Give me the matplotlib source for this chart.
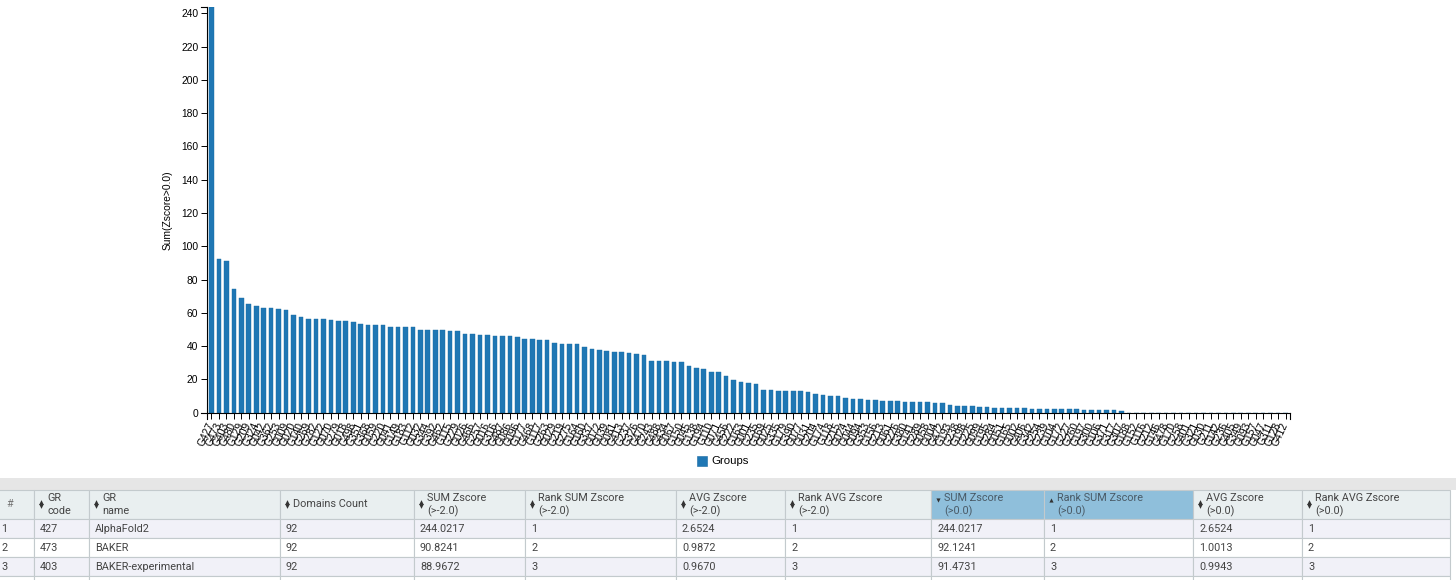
#!/usr/bin/env python3
"""
Bar chart of Sum(Zscore>0.0) per group, with the results table strip below.
"""
import numpy as np
import matplotlib
matplotlib.use('Agg')
import matplotlib.pyplot as plt
from matplotlib.patches import Rectangle

# Data
GROUPS = [
    'G427', 'G473', 'G403', 'G480', 'G129', 'G209', 'G324', 'G042', 'G362', 'G253',
    'G009', 'G020', 'G140', 'G269', 'G282', 'G122', 'G070', 'G279', 'G018', 'G498',
    'G351', 'G368', 'G059', 'G220', 'G041', 'G149', 'G183', 'G112', 'G032', 'G344',
    'G392', 'G462', 'G115', 'G229', 'G026', 'G466', 'G257', 'G016', 'G316', 'G487',
    'G086', 'G096', 'G177', 'G468', 'G117', 'G263', 'G029', 'G219', 'G275', 'G164',
    'G160', 'G337', 'G072', 'G039', 'G081', 'G413', 'G237', 'G326', 'G470', 'G243',
    'G488', 'G434', 'G067', 'G150', 'G045', 'G138', 'G194', 'G110', 'G071', 'G456',
    'G222', 'G163', 'G001', 'G235', 'G169', 'G025', 'G335', 'G179', 'G390', 'G077',
    'G031', 'G204', 'G174', 'G118', 'G215', 'G024', 'G044', 'G094', 'G353', 'G156',
    'G213', 'G061', 'G226', 'G380', 'G141', 'G289', 'G058', 'G004', 'G472', 'G193',
    'G238', 'G198', 'G225', 'G099', 'G195', 'G284', 'G051', 'G165', 'G002', 'G406',
    'G342', 'G254', 'G239', 'G104', 'G172', 'G227', 'G260', 'G197', 'G300', 'G106',
    'G371', 'G317', 'G307', 'G188', 'G152', 'G116', 'G212', 'G146', 'G478', 'G170',
    'G258', 'G401', 'G321', 'G030', 'G211', 'G142', 'G236', 'G405', 'G349', 'G093',
    'G157', 'G047', 'G311', 'G128', 'G412',
]
SUM_Z = [
    244.0217, 92.1241, 91.4731, 74.6, 69.0, 65.5, 64.0, 63.0, 63.0, 62.5,
    62.0, 59.0, 57.5, 56.3, 56.3, 56.3, 55.6, 55.0, 55.0, 54.4,
    53.5, 53.0, 52.5, 52.5, 51.5, 51.5, 51.5, 51.5, 50.0, 50.0,
    50.0, 50.0, 49.0, 49.0, 47.5, 47.5, 47.0, 47.0, 46.0, 46.0,
    46.0, 45.5, 44.5, 44.5, 43.5, 43.5, 42.0, 41.5, 41.0, 41.0,
    39.5, 38.5, 37.6, 37.0, 36.6, 36.6, 36.0, 35.0, 34.4, 31.0,
    31.0, 31.0, 30.4, 30.2, 28.0, 26.6, 26.0, 24.6, 24.6, 22.0,
    19.6, 18.6, 17.6, 17.0, 13.8, 13.8, 13.2, 13.2, 13.2, 13.2,
    12.6, 11.4, 10.8, 10.2, 9.8, 8.6, 8.2, 8.2, 7.6, 7.6,
    7.2, 7.2, 7.2, 6.6, 6.2, 6.2, 6.2, 5.6, 5.6, 4.6,
    4.0, 4.0, 4.0, 3.4, 3.3, 3.1, 3.0, 2.9, 2.7, 2.6,
    2.5, 2.4, 2.3, 2.1, 2.0, 2.0, 2.0, 1.9, 1.8, 1.6,
    1.5, 1.4, 0.8, 0.0, 0.0, 0.0, 0.0, 0.0, 0.0, 0.0,
    0.0, 0.0, 0.0, 0.0, 0.0, 0.0, 0.0, 0.0, 0.0, 0.0,
    0.0, 0.0, 0.0, 0.0, 0.0,
]
Y_TICKS = list(range(0, 241, 20))

# Table strip
HEADERS = [
    ('#',), ('GR', 'code'), ('GR', 'name'), ('Domains Count',),
    ('SUM Zscore', '(>-2.0)'), ('Rank SUM Zscore', '(>-2.0)'),
    ('AVG Zscore', '(>-2.0)'), ('Rank AVG Zscore', '(>-2.0)'),
    ('SUM Zscore', '(>0.0)'), ('Rank SUM Zscore', '(>0.0)'),
    ('AVG Zscore', '(>0.0)'), ('Rank AVG Zscore', '(>0.0)'),
]
ROW_NUM = ['1', '2', '3']
GR_CODE = ['427', '473', '403']
GR_NAME = ['AlphaFold2', 'BAKER', 'BAKER-experimental']
DOMAINS = ['92', '92', '92']
SUM_M2 = ['244.0217', '90.8241', '88.9672']
RANK_SUM_M2 = ['1', '2', '3']
AVG_M2 = ['2.6524', '0.9872', '0.9670']
RANK_AVG_M2 = ['1', '2', '3']
SUM_0 = ['244.0217', '92.1241', '91.4731']
RANK_SUM_0 = ['1', '2', '3']
AVG_0 = ['2.6524', '1.0013', '0.9943']
RANK_AVG_0 = ['1', '2', '3']

# Styling
W, H = 1456, 580
BAR_COLOR = '#1f77b4'
HEAD_BG = '#e9eff0'
HEAD_SEL = '#8fbfdb'
ROW_ALT = '#f1f1f8'
BORDER = '#c3cacd'
BAND = '#e6e6e6'
COL_EDGES = [-30, 34, 89, 280, 414, 525, 676, 785, 931, 1044, 1193, 1302, 1450]
SORT_STATE = [None, 'both', 'both', 'both', 'both', 'both', 'both', 'both',
              'down', 'up', 'both', 'both']


def px_rect(l, t, r, b):
    return [l / W, 1 - b / H, (r - l) / W, (b - t) / H]


fig = plt.figure(figsize=(W / 100, H / 100), dpi=100, facecolor='white')

# Background canvas in pixel coordinates
bg = fig.add_axes([0, 0, 1, 1], zorder=0)
bg.set_xlim(0, W)
bg.set_ylim(H, 0)
bg.axis('off')

# ---- bar chart ----
ax = fig.add_axes(px_rect(207, 6.7, 1290, 412.7), zorder=1)
ax.set_facecolor('none')
x = np.arange(len(GROUPS))
ax.bar(x, SUM_Z, width=0.62, color=BAR_COLOR, edgecolor='#1a6aa3', linewidth=0.3)
ax.set_xlim(-0.6, len(GROUPS) - 0.4)
ax.set_ylim(0, max(SUM_Z))
ax.set_yticks(Y_TICKS)
ax.set_yticklabels([str(t) for t in Y_TICKS], fontsize=7.4, family='Liberation Sans')
ax.set_xticks(x)
ax.set_xticklabels(GROUPS, rotation=65, ha='right', va='center',
                   rotation_mode='anchor', fontsize=7.4, family='Liberation Sans')
ax.tick_params(axis='both', direction='out', length=4.3, width=0.7, color='black', pad=2)
ax.tick_params(axis='x', pad=3)
for side in ['top', 'right']:
    ax.spines[side].set_visible(False)
for side in ['left', 'bottom']:
    ax.spines[side].set_linewidth(0.8)
ax.set_ylabel('Sum(Zscore>0.0)', fontsize=7.4, family='Liberation Sans', labelpad=6)

# d3-style outer ticks on the domain paths
ax_h = 412.7 - 6.7
ax_w = 1290 - 207
ax.plot([0, -6 / ax_w], [1, 1], transform=ax.transAxes, color='black', lw=0.8, clip_on=False)
ax.plot([0, -6 / ax_w], [0, 0], transform=ax.transAxes, color='black', lw=0.8, clip_on=False)
ax.plot([0, 0], [0, -6 / ax_h], transform=ax.transAxes, color='black', lw=0.8, clip_on=False)
ax.plot([1, 1], [0, -6 / ax_h], transform=ax.transAxes, color='black', lw=0.8, clip_on=False)

# Legend
bg.add_patch(Rectangle((697, 456), 10, 10, facecolor=BAR_COLOR, edgecolor='#1a6aa3', lw=0.4))
bg.text(711, 461.5, 'Groups', fontsize=8.2, family='Liberation Sans', va='center', ha='left')

# ---- table strip ----
bg.add_patch(Rectangle((0, 478), W, 12, facecolor=BAND, edgecolor='none'))

head_top, head_bot = 490, 519
row_h = 19
columns = [ROW_NUM, GR_CODE, GR_NAME, DOMAINS, SUM_M2, RANK_SUM_M2, AVG_M2,
           RANK_AVG_M2, SUM_0, RANK_SUM_0, AVG_0, RANK_AVG_0]
tfont = dict(family='Roboto', fontsize=7.8)

for i, hdr in enumerate(HEADERS):
    l, r = COL_EDGES[i], COL_EDGES[i + 1]
    fc = HEAD_SEL if SORT_STATE[i] in ('up', 'down') else HEAD_BG
    bg.add_patch(Rectangle((l, head_top), r - l, head_bot - head_top,
                           facecolor=fc, edgecolor=BORDER, lw=0.8))
    tcol = '#4a5a66' if fc == HEAD_SEL else '#444444'
    if SORT_STATE[i] is None:
        bg.text(10, 504, hdr[0], color='#777777', ha='center', va='center', **tfont)
        continue
    ix = l + 7
    if SORT_STATE[i] == 'both':
        bg.plot([ix], [501.8], marker='^', ms=3.4, color='#333333', mew=0)
        bg.plot([ix], [506.2], marker='v', ms=3.4, color='#333333', mew=0)
    elif SORT_STATE[i] == 'down':
        bg.plot([ix], [500], marker='v', ms=3.0, color='#333333', mew=0)
    else:
        bg.plot([ix], [500], marker='^', ms=3.0, color='#333333', mew=0)
    if len(hdr) == 1:
        bg.text(l + 13, 504, hdr[0], color=tcol, ha='left', va='center', **tfont)
    else:
        bg.text(l + 13, 498, hdr[0], color=tcol, ha='left', va='center', **tfont)
        bg.text(l + 13, 511, hdr[1], color=tcol, ha='left', va='center', **tfont)

for j in range(4):
    top = head_bot + j * row_h
    fc = ROW_ALT if j % 2 == 0 else 'white'
    for i in range(len(HEADERS)):
        l, r = COL_EDGES[i], COL_EDGES[i + 1]
        bg.add_patch(Rectangle((l, top), r - l, row_h, facecolor=fc,
                               edgecolor=BORDER, lw=0.8))
        if j < len(ROW_NUM):
            tx = 1 if i == 0 else l + 6
            bg.text(tx, top + row_h / 2 + 0.5, columns[i][j], color='#444444',
                    ha='left', va='center', **tfont)

fig.savefig('out.png', dpi=100, facecolor='white')
